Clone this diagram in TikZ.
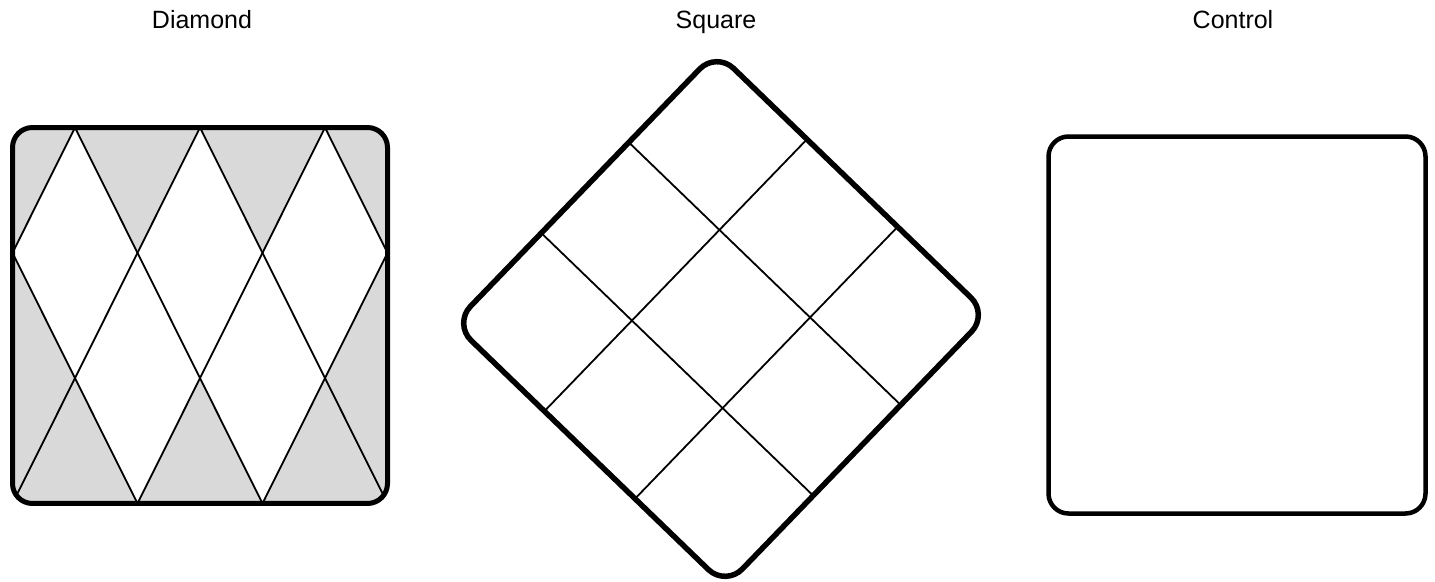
\documentclass[tikz,border=0pt]{standalone}
\usepackage{fontspec}
\setmainfont{Liberation Sans}
\usepackage{xcolor}
\definecolor{qshade}{HTML}{D9D9D9}
\usepackage{tikz}
\usetikzlibrary{positioning}

\begin{document}
\begin{tikzpicture}[x=1pt,y=-1pt,font=\fontsize{25}{30}\selectfont,
  ttl/.style={anchor=base,inner sep=0pt},
  frame/.style={draw=black,line width=5pt,rounded corners=20pt},
  grid/.style={draw=black,line width=1.8pt}]
\useasboundingbox (0,0) rectangle (1435,581);
% titles
\node[ttl] (tdia) at (202,28.5) {Diamond};
\node[ttl] (tsq) at (716,28.5) {Square};
\node[ttl] (tctl) at (1233,28.5) {Control};
% diamond pattern
\begin{scope}[shift={(12.5,127.5)},x=62.5pt,y=-125.33pt]
  \begin{scope}
    \clip[rounded corners=20pt] (0,0) rectangle (6,3);
    \fill[qshade] (0,0) rectangle (6,3);
    \foreach \c/\r in {1/1,3/1,5/1,2/2,4/2}
      \fill[white] (\c-1,\r)--(\c,\r-1)--(\c+1,\r)--(\c,\r+1)--cycle;
    \draw[grid] (0,1)--(2,3) (1,0)--(4,3) (3,0)--(6,3) (5,0)--(6,1);
    \draw[grid] (1,0)--(0,1) (3,0)--(0,3) (5,0)--(2,3) (6,1)--(4,3);
  \end{scope}
  \draw[frame] (0,0) rectangle (6,3);
\end{scope}
% square grid
\begin{scope}[shift={(721,319)},rotate=46]
  \foreach \k in {-63,63}{
    \draw[grid] (\k,-189)--(\k,189);
    \draw[grid] (-189,\k)--(189,\k);
  }
  \draw[frame,line width=5.5pt,rounded corners=24pt] (-189,-189) rectangle (189,189);
\end{scope}
% control
\draw[frame,line width=4.5pt] (1048.5,136.5) rectangle (1425.5,513.5);
\end{tikzpicture}
\end{document}
